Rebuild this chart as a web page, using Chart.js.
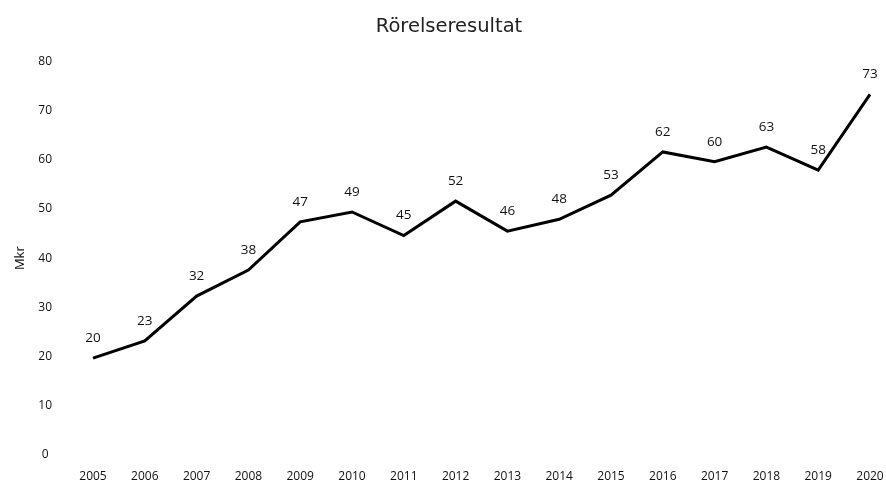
<!DOCTYPE html>
<html>
<head>
<meta charset="utf-8">
<script src="https://cdn.jsdelivr.net/npm/chart.js@4.4.1/dist/chart.umd.min.js"></script>
<style>
  html, body { margin: 0; padding: 0; background: #ffffff; overflow: hidden; }
  canvas { display: block; }
</style>
</head>
<body>
<canvas id="c" width="886" height="485"></canvas>
<script>
const years = ['2005','2006','2007','2008','2009','2010','2011','2012','2013','2014','2015','2016','2017','2018','2019','2020'];
const rorelseresultat = [19.7, 23.2, 32.3, 37.6, 47.4, 49.4, 44.6, 51.6, 45.5, 47.9, 52.8, 61.6, 59.6, 62.6, 57.9, 73.3];
const yTicks = [0, 10, 20, 30, 40, 50, 60, 70, 80];

const FONT = "'Open Sans', 'DejaVu Sans', sans-serif";

const valueLabels = {
  id: 'valueLabels',
  afterDatasetsDraw(chart) {
    const ctx = chart.ctx;
    const meta = chart.getDatasetMeta(0);
    const data = chart.data.datasets[0].data;
    ctx.save();
    ctx.font = '13.5px ' + FONT;
    ctx.fillStyle = '#111111';
    ctx.textAlign = 'center';
    ctx.textBaseline = 'middle';
    meta.data.forEach((pt, i) => {
      ctx.fillText(String(Math.round(data[i])), pt.x, pt.y - 20);
    });
    ctx.restore();
  }
};

new Chart(document.getElementById('c'), {
  type: 'line',
  data: {
    labels: years,
    datasets: [{
      label: 'Rörelseresultat',
      data: rorelseresultat,
      borderColor: '#000000',
      borderWidth: 3,
      pointRadius: 0,
      tension: 0,
      fill: false
    }]
  },
  options: {
    responsive: false,
    devicePixelRatio: 1,
    animation: false,
    layout: { padding: { left: 12, right: 0, top: 0, bottom: 0 } },
    plugins: {
      legend: { display: false },
      tooltip: { enabled: false },
      title: {
        display: true,
        text: 'Rörelseresultat',
        color: '#222222',
        font: { family: "'DejaVu Sans', sans-serif", size: 19.5, weight: 'normal' },
        padding: { top: 15, bottom: 23 }
      }
    },
    scales: {
      x: {
        offset: false,
        grid: { display: false, drawTicks: false },
        border: { display: false },
        afterFit(axis) { axis.height = 30; axis.paddingRight = 16; axis.paddingBottom = 0; axis.paddingTop = 0; },
        ticks: {
          color: '#111111',
          font: { family: FONT, size: 12 },
          padding: 14,
          maxRotation: 0,
          autoSkip: false
        }
      },
      y: {
        min: 0,
        max: 80,
        grid: { display: false, drawTicks: false },
        border: { display: false },
        afterBuildTicks(axis) { axis.ticks = yTicks.map(v => ({ value: v })); },
        afterFit(axis) { axis.width = 81; axis.paddingBottom = 0; axis.paddingTop = 0; },
        title: {
          display: true,
          text: 'Mkr',
          color: '#111111',
          font: { family: FONT, size: 13 },
          padding: { top: 0, bottom: 0 }
        },
        ticks: {
          color: '#111111',
          font: { family: FONT, size: 12 },
          crossAlign: 'center',
          padding: 41
        }
      }
    }
  },
  plugins: [valueLabels]
});
</script>
</body>
</html>
